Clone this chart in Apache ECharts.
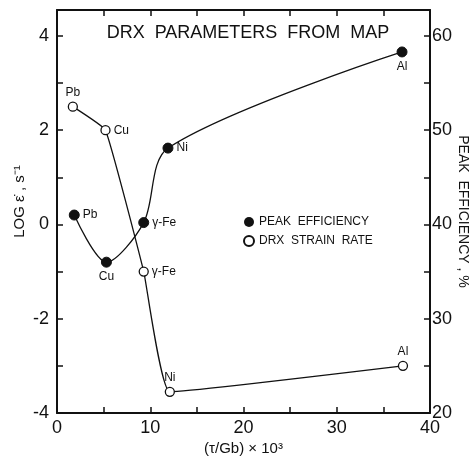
<!DOCTYPE html>
<html>
<head>
<meta charset="utf-8">
<script src="https://cdn.jsdelivr.net/npm/echarts@6/dist/echarts.min.js"></script>
<style>
  html, body { margin: 0; padding: 0; background: #fff; }
  #chart { width: 472px; height: 459px; }
</style>
</head>
<body>
<div id="chart"></div>
<script>
// metals, in order of tau/Gb
const metals = ['Pb', 'Cu', 'γ-Fe', 'Ni', 'Al'];
// tau/Gb x 10^3
const stressX = [1.7, 5.2, 9.3, 12.1, 37.1];
const peakX = [1.85, 5.3, 9.3, 11.9, 37.0];
// DRX strain rate, log s^-1 (left axis)
const drxRate = [2.5, 2.0, -1.0, -3.55, -3.0];
// peak efficiency, % (right axis)
const peakEff = [41, 36, 40.2, 48.1, 58.3];

const xTicks = [0, 10, 20, 30, 40];
const leftTicks = [-4, -2, 0, 2, 4];
const rightTicks = [20, 30, 40, 50, 60];

// where the metal names sit beside the marks
const drxLabelPos = ['top', 'right', 'right', 'top', 'top'];
const peakLabelPos = ['right', 'bottom', 'right', 'right', 'bottom'];

const font = 'Liberation Sans';
const black = '#111';

const makePoints = (xs, ys, pos) => xs.map((x, i) => ({
    value: [x, ys[i]],
    label: { position: pos[i] },
    name: metals[i]
}));

const chart = echarts.init(document.getElementById('chart'));

const axisBase = {
    axisLine: { show: true, onZero: false, lineStyle: { color: black, width: 2 } },
    axisTick: { show: true, inside: true, length: 6, lineStyle: { color: black, width: 1.5 } },
    splitLine: { show: false },
    axisLabel: { color: black, fontFamily: font, fontSize: 18 }
};

chart.setOption({
    animation: false,
    backgroundColor: '#fff',
    title: {
        text: 'DRX  PARAMETERS  FROM  MAP',
        left: 243,
        top: 19,
        textAlign: 'center',
        textStyle: { fontFamily: font, fontSize: 18, fontWeight: 'normal', color: black }
    },
    legend: {
        orient: 'vertical',
        left: 238,
        top: 211,
        itemWidth: 10,
        itemHeight: 10,
        itemGap: 7,
        icon: 'circle',
        textStyle: { fontFamily: font, fontSize: 12, color: black },
        data: ['PEAK  EFFICIENCY', 'DRX  STRAIN  RATE']
    },
    grid: { left: 57, right: 42, top: 10, bottom: 46, outerBoundsMode: 'none' },
    xAxis: [
        {
            ...axisBase,
            type: 'value',
            min: 0,
            max: 40,
            interval: 5,
            name: '(τ/Gb) × 10³',
            nameLocation: 'middle',
            nameGap: 28,
            nameMoveOverlap: false,
            nameTextStyle: { fontFamily: font, fontSize: 15, color: black },
            axisLabel: {
                ...axisBase.axisLabel,
                margin: 6,
                formatter: (v) => (xTicks.includes(v) ? String(v) : '')
            }
        },
        {
            ...axisBase,
            type: 'value',
            position: 'top',
            min: 0,
            max: 40,
            interval: 5,
            axisLabel: { show: false }
        }
    ],
    yAxis: [
        {
            ...axisBase,
            type: 'value',
            min: -4,
            max: 4.55,
            interval: 1,
            name: 'LOG ε̇ , s⁻¹',
            nameLocation: 'middle',
            nameGap: 30,
            nameMoveOverlap: false,
            nameTextStyle: { fontFamily: font, fontSize: 15, color: black, padding: [0, 0, 0, 20] },
            axisLabel: {
                ...axisBase.axisLabel,
                margin: 8,
                showMaxLabel: false,
                formatter: (v) => (leftTicks.includes(v) ? String(v) : '')
            }
        },
        {
            ...axisBase,
            type: 'value',
            position: 'right',
            min: 20,
            max: 62.75,
            interval: 5,
            name: 'PEAK  EFFICIENCY , %',
            nameLocation: 'middle',
            nameRotate: -90,
            nameGap: 26,
            nameMoveOverlap: false,
            nameTextStyle: { fontFamily: font, fontSize: 14, color: black },
            axisLabel: {
                ...axisBase.axisLabel,
                margin: 2,
                showMaxLabel: false,
                formatter: (v) => (rightTicks.includes(v) ? String(v) : '')
            }
        }
    ],
    series: [
        {
            name: 'PEAK  EFFICIENCY',
            type: 'line',
            yAxisIndex: 1,
            smooth: 0.3,
            symbol: 'circle',
            symbolSize: 10,
            itemStyle: { color: black, borderColor: black },
            lineStyle: { color: black, width: 1.3 },
            label: {
                show: true,
                formatter: (p) => p.name,
                fontFamily: font,
                fontSize: 12,
                color: black,
                distance: 3
            },
            data: makePoints(peakX, peakEff, peakLabelPos)
        },
        {
            name: 'DRX  STRAIN  RATE',
            type: 'line',
            smooth: 0.1,
            symbol: 'circle',
            symbolSize: 9,
            itemStyle: { color: '#fff', borderColor: black, borderWidth: 1.3 },
            lineStyle: { color: black, width: 1.3 },
            label: {
                show: true,
                formatter: (p) => p.name,
                fontFamily: font,
                fontSize: 12,
                color: black,
                distance: 3
            },
            data: makePoints(stressX, drxRate, drxLabelPos)
        }
    ]
});
</script>
</body>
</html>
